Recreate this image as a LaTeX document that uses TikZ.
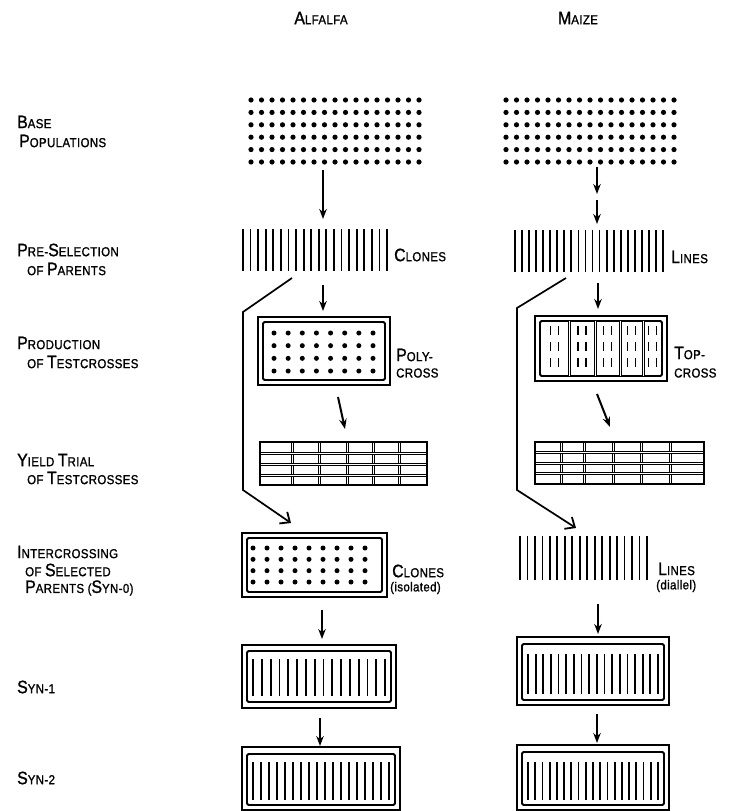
\documentclass[tikz,border=0pt]{standalone}
\usepackage{fontspec}
\setmainfont{Liberation Sans}
\newfontfamily\lett[FakeStretch=0.88,FakeBold=1.2,LetterSpace=3]{Liberation Sans}
\usetikzlibrary{arrows.meta}
\newcommand\Bg[1]{{\fontsize{18}{18}\selectfont #1}}
\newcommand\Sm[1]{{\fontsize{13}{13}\selectfont #1}}
\newcommand\stripes[5]{\foreach \i in {0,...,#3}{\pgfmathsetmacro\xx{#1+\i*(#2-#1)/#3}\draw[stripe] (\xx,#4) -- (\xx,#5);}}
\newcommand\dotgrid[7]{\foreach \i in {0,...,#3}{\foreach \j in {0,...,#6}{\pgfmathsetmacro\xx{#1+\i*(#2-#1)/#3}\pgfmathsetmacro\yy{#4+\j*(#5-#4)/#6}\fill (\xx,\yy) circle (#7);}}}
\begin{document}
\begin{tikzpicture}[x=1pt,y=-1pt,
  lbl/.style={anchor=west,inner sep=0pt,font=\lett},
  blk/.style={draw=none,inner sep=0pt,outer sep=0pt},
  stripe/.style={line width=1.8pt},
  outerbox/.style={line width=2pt},
  innerbox/.style={line width=1.8pt,rounded corners=1.5pt},
  arr/.style={line width=2pt,-{Stealth[length=10pt,width=7.5pt]}},
  bent/.style={line width=1.7pt,-{Straight Barb[length=8pt,width=14pt,line width=1.8pt]}},
  divl/.style={draw=black,double=white,line width=1.1pt,double distance=0.8pt}]
\useasboundingbox (0,0) rectangle (747,811);
\fill[white] (0,0) rectangle (747,811);

% headers
\node[blk,font=\lett] (half) at (321,18) {\Bg{A}\Sm{LFALFA}};
\node[blk,font=\lett] (hmai) at (578,18) {\Bg{M}\Sm{AIZE}};

% left labels
\node[lbl] (l1a) at (17,122) {\Bg{B}\Sm{ASE}};
\node[lbl] (l1b) at (19,141) {\Bg{P}\Sm{OPULATIONS}};
\node[lbl] (l2a) at (17,250) {\Bg{P}\Sm{RE-}\Bg{S}\Sm{ELECTION}};
\node[lbl] (l2b) at (27,269) {\Sm{OF }\Bg{P}\Sm{ARENTS}};
\node[lbl] (l3a) at (17,343) {\Bg{P}\Sm{RODUCTION}};
\node[lbl] (l3b) at (27,362) {\Sm{OF }\Bg{T}\Sm{ESTCROSSES}};
\node[lbl] (l4a) at (17,460) {\Bg{Y}\Sm{IELD }\Bg{T}\Sm{RIAL}};
\node[lbl] (l4b) at (27,478) {\Sm{OF }\Bg{T}\Sm{ESTCROSSES}};
\node[lbl] (l5a) at (17,552) {\Bg{I}\Sm{NTERCROSSING}};
\node[lbl] (l5b) at (25,570) {\Sm{OF }\Bg{S}\Sm{ELECTED}};
\node[lbl] (l5c) at (25,588) {\Bg{P}\Sm{ARENTS (}\Bg{S}\Sm{YN-0)}};
\node[lbl] (l6) at (17,687) {\Bg{S}\Sm{YN-1}};
\node[lbl] (l7) at (17,778) {\Bg{S}\Sm{YN-2}};

% ================= ALFALFA =================
\node[blk,minimum width=168,minimum height=64] (abase) at (335,131) {};
\dotgrid{251}{419}{16}{100}{162}{5}{2.6pt}
\node[blk,minimum width=144,minimum height=42] (aclones) at (315,250) {};
\stripes{243}{387}{19}{229}{271}
\node[lbl] (tclones) at (394,255) {\Bg{C}\Sm{LONES}};

\node[blk,minimum width=132,minimum height=68] (apoly) at (324,351) {};
\draw[outerbox] (apoly.north west) rectangle (apoly.south east);
\draw[innerbox] ([shift={(5,5)}]apoly.north west) rectangle ([shift={(-5,-5)}]apoly.south east);
\dotgrid{274}{373}{7}{333}{371}{3}{2.5pt}
\node[lbl] (tpoly1) at (396,355) {\Bg{P}\Sm{OLY-}};
\node[lbl] (tpoly2) at (396,373) {\Sm{CROSS}};

\node[blk,minimum width=167,minimum height=43] (agrid) at (343.5,463.5) {};
\foreach \x in {292,319,347,373,399}{\draw[divl] (\x,442) -- (\x,485);}
\foreach \y in {453,464,475}{\draw[divl] (260,\y) -- (427,\y);}
\draw[outerbox] (agrid.north west) rectangle (agrid.south east);

\node[blk,minimum width=145,minimum height=64] (asyn0) at (314.5,565) {};
\draw[outerbox] (asyn0.north west) rectangle (asyn0.south east);
\draw[innerbox] ([shift={(5,5)}]asyn0.north west) rectangle ([shift={(-5,-5)}]asyn0.south east);
\dotgrid{253}{365}{8}{548}{582}{3}{2.5pt}
\node[lbl] (tclo2) at (392,571) {\Bg{C}\Sm{LONES}};
\node[lbl] (tiso) at (390,588) {\Sm{(isolated)}};

\node[blk,minimum width=154,minimum height=63] (asyn1) at (319,676.5) {};
\draw[outerbox] (asyn1.north west) rectangle (asyn1.south east);
\draw[innerbox] ([shift={(5,6)}]asyn1.north west) rectangle ([shift={(-5,-6)}]asyn1.south east);
\stripes{253}{385}{15}{659}{696}

\node[blk,minimum width=158,minimum height=63] (asyn2) at (321,778.5) {};
\draw[outerbox] (asyn2.north west) rectangle (asyn2.south east);
\draw[innerbox] ([shift={(5,7)}]asyn2.north west) rectangle ([shift={(-5,-5)}]asyn2.south east);
\stripes{253}{389}{17}{762}{800}

% alfalfa arrows
\coordinate (a1s) at (323,170); \coordinate (a1e) at (323,219);
\draw[arr] (a1s) -- (a1e);
\coordinate (a2s) at (323,285); \coordinate (a2e) at (323,311);
\draw[arr] (a2s) -- (a2e);
\coordinate (a3s) at (338,397); \coordinate (a3e) at (345,429);
\draw[arr] (a3s) -- (a3e);
\coordinate (a4s) at (322,610); \coordinate (a4e) at (322,639);
\draw[arr] (a4s) -- (a4e);
\coordinate (a5s) at (320,718); \coordinate (a5e) at (320,746);
\draw[arr] (a5s) -- (a5e);
\coordinate (ab1) at (292,278); \coordinate (ab2) at (243,312);
\coordinate (ab3) at (243,490); \coordinate (ab4) at (291,523);
\draw[bent] (ab1) -- (ab2) -- (ab3) -- (ab4);

% ================= MAIZE =================
\node[blk,minimum width=168,minimum height=64] (mbase) at (590,131) {};
\dotgrid{506}{674}{16}{100}{162}{5}{2.6pt}
\node[blk,minimum width=148,minimum height=42] (mlines) at (589,251) {};
\stripes{515}{663}{21}{230}{272}
\node[lbl] (tlines) at (671,257) {\Bg{L}\Sm{INES}};

\node[blk,minimum width=132,minimum height=65] (mtop) at (601,348.5) {};
\draw[outerbox] (mtop.north west) rectangle (mtop.south east);
\draw[innerbox] ([shift={(5,5)}]mtop.north west) rectangle ([shift={(-5,-5)}]mtop.south east);
\foreach \x in {569,595,620,643}{\draw[divl] (\x,321) -- (\x,376);}
\foreach \c in {554.5,582,607.5,631.5,652.5}{
  \foreach \y in {330,346,362}{
    \draw[stripe] (\c-4,\y-4.5) -- (\c-4,\y+4.5);
    \draw[stripe] (\c+4,\y-4.5) -- (\c+4,\y+4.5);}}
\node[lbl] (ttop1) at (674,353) {\Bg{T}\Sm{OP-}};
\node[lbl] (ttop2) at (674,373) {\Sm{CROSS}};

\node[blk,minimum width=169,minimum height=42] (mgrid) at (619.5,463) {};
\foreach \x in {561,584,613,641,670}{\draw[divl] (\x,442) -- (\x,484);}
\foreach \y in {452.5,463,473.5}{\draw[divl] (535,\y) -- (704,\y);}
\draw[outerbox] (mgrid.north west) rectangle (mgrid.south east);

\node[blk,minimum width=127,minimum height=44] (mdial) at (583.5,558) {};
\stripes{520}{647}{17}{536}{580}
\node[lbl] (tlin2) at (658,569) {\Bg{L}\Sm{INES}};
\node[lbl] (tdia) at (656,586) {\Sm{(diallel)}};

\node[blk,minimum width=152,minimum height=68] (msyn1) at (593,671) {};
\draw[outerbox] (msyn1.north west) rectangle (msyn1.south east);
\draw[innerbox] ([shift={(5,7)}]msyn1.north west) rectangle ([shift={(-5,-5)}]msyn1.south east);
\stripes{528}{658}{17}{654}{694}

\node[blk,minimum width=152,minimum height=65] (msyn2) at (593,777.5) {};
\draw[outerbox] (msyn2.north west) rectangle (msyn2.south east);
\draw[innerbox] ([shift={(5,7)}]msyn2.north west) rectangle ([shift={(-5,-5)}]msyn2.south east);
\stripes{528}{658}{18}{762}{800}

% maize arrows
\coordinate (m1s) at (597,167); \coordinate (m1e) at (597,194);
\draw[arr] (m1s) -- (m1e);
\coordinate (m1t) at (597,200); \coordinate (m1f) at (597,224);
\draw[arr] (m1t) -- (m1f);
\coordinate (m2s) at (598,283); \coordinate (m2e) at (598,309);
\draw[arr] (m2s) -- (m2e);
\coordinate (m3s) at (597,394); \coordinate (m3e) at (610,427);
\draw[arr] (m3s) -- (m3e);
\coordinate (m4s) at (598,604); \coordinate (m4e) at (598,634);
\draw[arr] (m4s) -- (m4e);
\coordinate (m5s) at (597,714); \coordinate (m5e) at (597,743);
\draw[arr] (m5s) -- (m5e);
\coordinate (mb1) at (566,278); \coordinate (mb2) at (517,308);
\coordinate (mb3) at (517,490); \coordinate (mb4) at (576,528);
\draw[bent] (mb1) -- (mb2) -- (mb3) -- (mb4);
\end{tikzpicture}
\end{document}
